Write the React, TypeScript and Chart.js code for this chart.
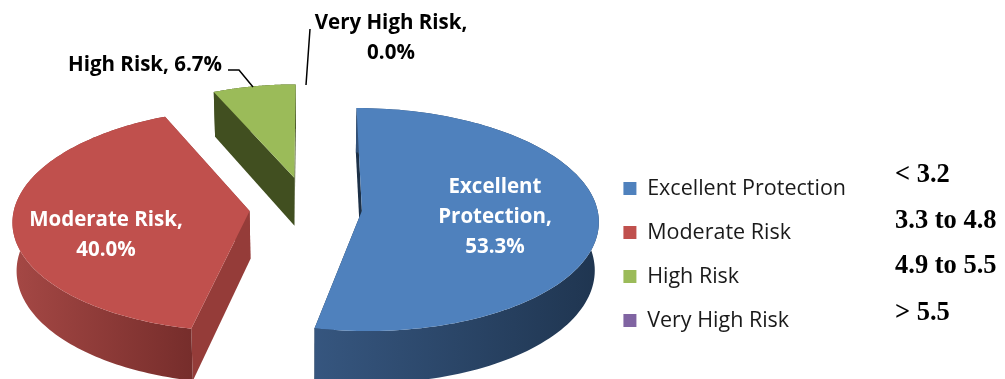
import React, { useEffect, useRef } from "react";
import { Chart, registerables } from "chart.js";

Chart.register(...registerables);

// Share of readings in each risk band
const categories = ["Excellent Protection", "Moderate Risk", "High Risk", "Very High Risk"];
const shares = [53.3, 40.0, 6.7, 0.0];
const ranges = ["< 3.2", "3.3 to 4.8", "4.9 to 5.5", "> 5.5"];

const faceColors = ["#4f81bd", "#c0504d", "#9bbb59", "#8064a2"];
const explode = [25.3, 27.4, 30.6, 0];

// Shading of the extruded sides: [outer wall left, outer wall right, cut face]
const sideColors = [
  ["#36567f", "#1f3550", "#1c3047"],
  ["#a54845", "#762d2b", "#953c39"],
  ["#414f20", "#414f20", "#414f20"],
  ["#5b4776", "#4a3a60", "#4a3a60"],
];

// Tilted view of the pie: each slice is projected around its own tip
const view = { cx: 308, cy: 208, rx: 234, ry: 110, depth: 48, persp: 0.08, far: 0.3, lean: 0.1, shrink: 0.014 };

const tracePath = (ctx: CanvasRenderingContext2D, pts: [number, number][]) => {
  ctx.beginPath();
  pts.forEach(([x, y], i) => (i ? ctx.lineTo(x, y) : ctx.moveTo(x, y)));
  ctx.closePath();
};

const pie3d = {
  id: "pie3d",
  beforeDatasetDraw(chart: any, args: any) {
    const { ctx } = chart;
    const arcs = chart.getDatasetMeta(args.index).data;
    ctx.save();
    arcs.forEach((arc: any, i: number) => {
      const { startAngle, endAngle, outerRadius } = arc.getProps(["startAngle", "endAngle", "outerRadius"], true);
      if (endAngle - startAngle < 1e-4) return;
      const mid = (startAngle + endAngle) / 2;
      const e = (arc.options.offset || 0) / outerRadius;
      const ox = Math.cos(mid) * e;
      const oy = Math.sin(mid) * e;
      const scale = 1 + view.far * oy;
      const tipX = view.cx + view.rx * ox;
      const tipY = view.cy + view.ry * oy;
      const project = (x: number, y: number, z: number): [number, number] => {
        const w = 1 / (1 - view.persp * y);
        const sx = tipX + view.rx * x * w * scale + (tipX - view.cx) * view.lean * y;
        const sy = tipY + view.ry * y * w * scale + view.depth * z * w;
        return [sx - (sx - view.cx) * view.shrink * z, sy];
      };
      const rim = (a: number, z: number) => project(Math.cos(a), Math.sin(a), z);
      const steps = 120;
      const top: [number, number][] = [];
      const bottom: [number, number][] = [];
      for (let s = 0; s <= steps; s++) {
        const a = startAngle + ((endAngle - startAngle) * s) / steps;
        top.push(rim(a, 0));
        bottom.push(rim(a, 1));
      }
      const [wallL, wallR, cut] = sideColors[i];
      // cut faces along both radial edges
      ctx.fillStyle = cut;
      [startAngle, endAngle].forEach((a: number) => {
        tracePath(ctx, [project(0, 0, 0), rim(a, 0), rim(a, 1), project(0, 0, 1)]);
        ctx.fill();
      });
      // outer curved wall, darker toward the right
      const xs = bottom.concat(top).map((p) => p[0]);
      const grad = ctx.createLinearGradient(Math.min(...xs), 0, Math.max(...xs), 0);
      grad.addColorStop(0, wallL);
      grad.addColorStop(1, wallR);
      ctx.fillStyle = grad;
      tracePath(ctx, top.concat(bottom.slice().reverse()));
      ctx.fill();
      // upper face
      ctx.fillStyle = arc.options.backgroundColor;
      tracePath(ctx, [project(0, 0, 0), ...top]);
      ctx.fill();
    });
    ctx.restore();
    return false;
  },
  afterDatasetsDraw(chart: any) {
    const { ctx } = chart;
    const pct = shares.map((v) => `${v.toFixed(1)}%`);
    const sans = '"Open Sans", sans-serif';
    const blocks: { lines: string[]; x: number; y: number; color: string }[] = [
      { lines: ["Excellent", "Protection,", pct[0]], x: 495, y: 187, color: "#ffffff" },
      { lines: ["Moderate Risk,", pct[1]], x: 106, y: 220, color: "#ffffff" },
      { lines: [`High Risk, ${pct[2]}`], x: 145, y: 65, color: "#000000" },
      { lines: ["Very High Risk,", pct[3]], x: 391, y: 23, color: "#000000" },
    ];
    ctx.save();
    ctx.textAlign = "center";
    ctx.textBaseline = "middle";
    ctx.font = `bold 20.5px ${sans}`;
    blocks.forEach((b) => {
      ctx.fillStyle = b.color;
      b.lines.forEach((t, i) => ctx.fillText(t, b.x, b.y + i * 30));
    });
    // leader lines of the two outside labels
    ctx.strokeStyle = "#000000";
    ctx.lineWidth = 1.5;
    ctx.beginPath();
    ctx.moveTo(228, 70);
    ctx.lineTo(239, 70);
    ctx.lineTo(253, 87);
    ctx.moveTo(310, 29);
    ctx.lineTo(306, 85);
    ctx.stroke();
    // value ranges beside the legend
    ctx.textAlign = "left";
    ctx.textBaseline = "alphabetic";
    ctx.fillStyle = "#000000";
    ctx.font = 'bold 26.5px "Liberation Serif", serif';
    const baselines = [182, 228, 273, 320];
    ranges.forEach((t, i) => ctx.fillText(t, 895, baselines[i]));
    ctx.restore();
  },
};

export default function App() {
  const ref = useRef<HTMLCanvasElement>(null);
  useEffect(() => {
    const chart = new Chart(ref.current!, {
      type: "pie",
      data: {
        labels: categories,
        datasets: [
          {
            data: shares,
            backgroundColor: faceColors,
            offset: explode,
            borderWidth: 0,
          },
        ],
      },
      options: {
        animation: false,
        responsive: false,
        events: [],
        layout: { padding: { top: 130, right: 149 } },
        plugins: {
          tooltip: { enabled: false },
          legend: {
            position: "right",
            labels: {
              boxWidth: 13,
              boxHeight: 13,
              padding: 22.5,
              color: "#1a1a1a",
              font: { family: '"Open Sans", sans-serif', size: 21.5 },
            },
          },
        },
      },
      plugins: [pie3d],
    } as any);
    return () => chart.destroy();
  }, []);
  return (
    <canvas
      ref={ref}
      width={1005}
      height={379}
      style={{ position: "fixed", left: 0, top: 0, width: 1005, height: 379, display: "block" }}
    />
  );
}
